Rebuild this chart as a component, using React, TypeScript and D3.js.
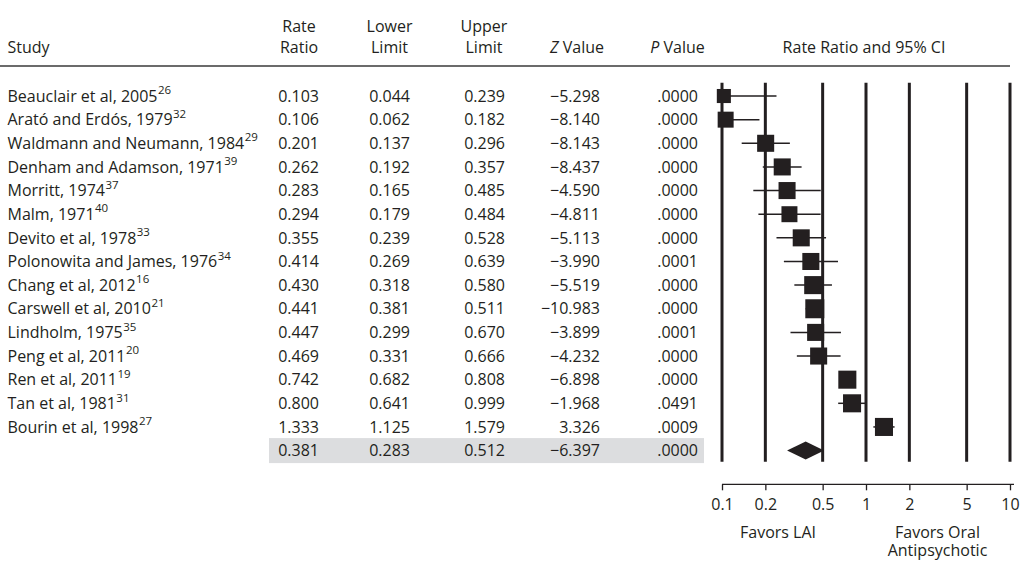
import React, { useEffect, useRef } from 'react';
import * as d3 from 'd3';

// study rows, top to bottom
const studyNames = [
  'Beauclair et al, 2005',
  'Arató and Erdós, 1979',
  'Waldmann and Neumann, 1984',
  'Denham and Adamson, 1971',
  'Morritt, 1974',
  'Malm, 1971',
  'Devito et al, 1978',
  'Polonowita and James, 1976',
  'Chang et al, 2012',
  'Carswell et al, 2010',
  'Lindholm, 1975',
  'Peng et al, 2011',
  'Ren et al, 2011',
  'Tan et al, 1981',
  'Bourin et al, 1998',
];
const studyRefs = ['26', '32', '29', '39', '37', '40', '33', '34', '16', '21', '35', '20', '19', '31', '27'];
const rateRatios = [0.103, 0.106, 0.201, 0.262, 0.283, 0.294, 0.355, 0.414, 0.43, 0.441, 0.447, 0.469, 0.742, 0.8, 1.333];
const lowerLimits = [0.044, 0.062, 0.137, 0.192, 0.165, 0.179, 0.239, 0.269, 0.318, 0.381, 0.299, 0.331, 0.682, 0.641, 1.125];
const upperLimits = [0.239, 0.182, 0.296, 0.357, 0.485, 0.484, 0.528, 0.639, 0.58, 0.511, 0.67, 0.666, 0.808, 0.999, 1.579];
const zValues = [-5.298, -8.14, -8.143, -8.437, -4.59, -4.811, -5.113, -3.99, -5.519, -10.983, -3.899, -4.232, -6.898, -1.968, 3.326];
const pValues = [0.0, 0.0, 0.0, 0.0, 0.0, 0.0, 0.0, 0.0001, 0.0, 0.0, 0.0001, 0.0, 0.0, 0.0491, 0.0009];
// relative weights
const weights = [4.5, 5.8, 6.6, 6.6, 6.6, 5.8, 6.6, 6.6, 7.4, 8.2, 6.6, 6.6, 7.4, 7.4, 7.4];

// pooled estimate
const summaryValues = [0.381, 0.283, 0.512, -6.397, 0.0];

const axisTicks = [0.1, 0.2, 0.5, 1, 2, 5, 10];

export default function App() {
  const ref = useRef<SVGSVGElement>(null);

  useEffect(() => {
    const ink = '#231f20';
    const font = '"Open Sans", sans-serif';
    const fs = 16;

    const svg = d3.select(ref.current);
    svg.selectAll('*').remove();
    const g = svg.append('g').attr('font-family', font).attr('font-size', fs).attr('fill', ink);

    const nRows = studyNames.length + 1;
    const y = d3.scaleBand<number>()
      .domain(d3.range(nRows))
      .range([84.2, 462.4]);
    const cy = (i: number) => (y(i) as number) + y.bandwidth() / 2;

    const x = d3.scaleLog().domain([0.1, 10]).range([722, 1010]);
    const boxSize = d3.scaleSqrt().domain([0, d3.max(weights) as number]).range([0, 19]);

    const fmt3 = d3.format('.3f');
    const fmtP = (d: number) => d3.format('.4f')(d).replace(/^0/, '');

    // gray band behind the pooled row
    g.append('rect')
      .attr('x', 269).attr('y', cy(nRows - 1) - 12.5)
      .attr('width', 435).attr('height', 25)
      .attr('fill', '#dcdddf');

    // header
    g.append('text').attr('x', 7.5).attr('y', 53).text('Study');
    const columns = [
      { head: ['Rate', 'Ratio'], center: 299, right: 319, vals: rateRatios.map(fmt3), sum: fmt3(summaryValues[0]) },
      { head: ['Lower', 'Limit'], center: 389.5, right: 410, vals: lowerLimits.map(fmt3), sum: fmt3(summaryValues[1]) },
      { head: ['Upper', 'Limit'], center: 484, right: 505, vals: upperLimits.map(fmt3), sum: fmt3(summaryValues[2]) },
      { head: ['', 'Z'], center: 577, right: 600, vals: zValues.map(fmt3), sum: fmt3(summaryValues[3]) },
      { head: ['', 'P'], center: 677.5, right: 698, vals: pValues.map(fmtP), sum: fmtP(summaryValues[4]) },
    ];
    columns.forEach((c) => {
      if (c.head[0]) {
        g.append('text').attr('x', c.center).attr('y', 32).attr('text-anchor', 'middle').text(c.head[0]);
        g.append('text').attr('x', c.center).attr('y', 53).attr('text-anchor', 'middle').text(c.head[1]);
      } else {
        const t = g.append('text').attr('x', c.center).attr('y', 53).attr('text-anchor', 'middle');
        t.append('tspan').attr('font-style', 'italic').text(c.head[1]);
        t.append('tspan').text(' Value');
      }
      g.selectAll(null)
        .data([...c.vals, c.sum])
        .enter()
        .append('text')
        .attr('x', c.right)
        .attr('y', (_d, i) => cy(i) + 5.7)
        .attr('text-anchor', 'end')
        .text((d) => d);
    });
    g.append('text')
      .attr('x', 864).attr('y', 53).attr('text-anchor', 'middle')
      .text('Rate Ratio and 95% CI');

    g.append('line')
      .attr('x1', 0).attr('x2', 1010).attr('y1', 66).attr('y2', 66)
      .attr('stroke', '#3a3a3a').attr('stroke-width', 1.6);

    // study labels with superscript refs
    const labels = g.selectAll(null)
      .data(studyNames)
      .enter()
      .append('text')
      .attr('x', 7.5)
      .attr('y', (_d, i) => cy(i) + 5.7);
    labels.append('tspan').text((d) => d);
    labels.append('tspan')
      .attr('font-size', 11.5)
      .attr('dx', 0.5)
      .attr('dy', -7.5)
      .text((_d, i) => studyRefs[i]);

    // vertical reference lines
    g.selectAll(null)
      .data(axisTicks)
      .enter()
      .append('line')
      .attr('x1', (d) => x(d)).attr('x2', (d) => x(d))
      .attr('y1', 82.7).attr('y2', 461.7)
      .attr('stroke', ink).attr('stroke-width', 3);

    // confidence intervals
    g.selectAll(null)
      .data(rateRatios)
      .enter()
      .append('line')
      .attr('x1', (_d, i) => x(Math.max(lowerLimits[i], 0.1)))
      .attr('x2', (_d, i) => x(Math.min(upperLimits[i], 10)))
      .attr('y1', (_d, i) => cy(i)).attr('y2', (_d, i) => cy(i))
      .attr('stroke', ink).attr('stroke-width', 1.5);

    // boxes
    g.selectAll(null)
      .data(rateRatios)
      .enter()
      .append('rect')
      .attr('x', (d, i) => x(d) - boxSize(weights[i]) / 2)
      .attr('y', (_d, i) => cy(i) - boxSize(weights[i]) / 2)
      .attr('width', (_d, i) => boxSize(weights[i]))
      .attr('height', (_d, i) => boxSize(weights[i]))
      .attr('fill', ink);

    // pooled diamond
    const sy = cy(nRows - 1);
    const [srr, slo, shi] = summaryValues;
    g.append('path')
      .attr('d', `M${x(slo)},${sy}L${x(srr)},${sy - 9}L${x(shi)},${sy}L${x(srr)},${sy + 9}Z`)
      .attr('fill', ink);

    // bottom axis
    const axis = d3.axisBottom(x)
      .tickValues(axisTicks)
      .tickFormat((d) => String(d))
      .tickSize(6)
      .tickSizeOuter(0)
      .tickPadding(8);
    const ag = g.append('g').attr('transform', 'translate(0,484.3)').call(axis);
    ag.attr('font-family', font).attr('font-size', fs);
    ag.select('.domain').attr('stroke', ink).attr('stroke-width', 1.3)
      .attr('d', `M${x(0.1)},0H${x(10) + 4}`);
    ag.selectAll('.tick line').attr('stroke', ink).attr('stroke-width', 1.3);
    ag.selectAll('.tick text').attr('fill', ink);

    g.append('text').attr('x', 778).attr('y', 538).attr('text-anchor', 'middle').text('Favors LAI');
    g.append('text').attr('x', 937.5).attr('y', 538).attr('text-anchor', 'middle').text('Favors Oral');
    g.append('text').attr('x', 937.5).attr('y', 556).attr('text-anchor', 'middle').text('Antipsychotic');
  }, []);

  return (
    <svg ref={ref} width={1021} height={561} style={{ position: 'absolute', left: 0, top: 0, background: '#fff' }} />
  );
}
